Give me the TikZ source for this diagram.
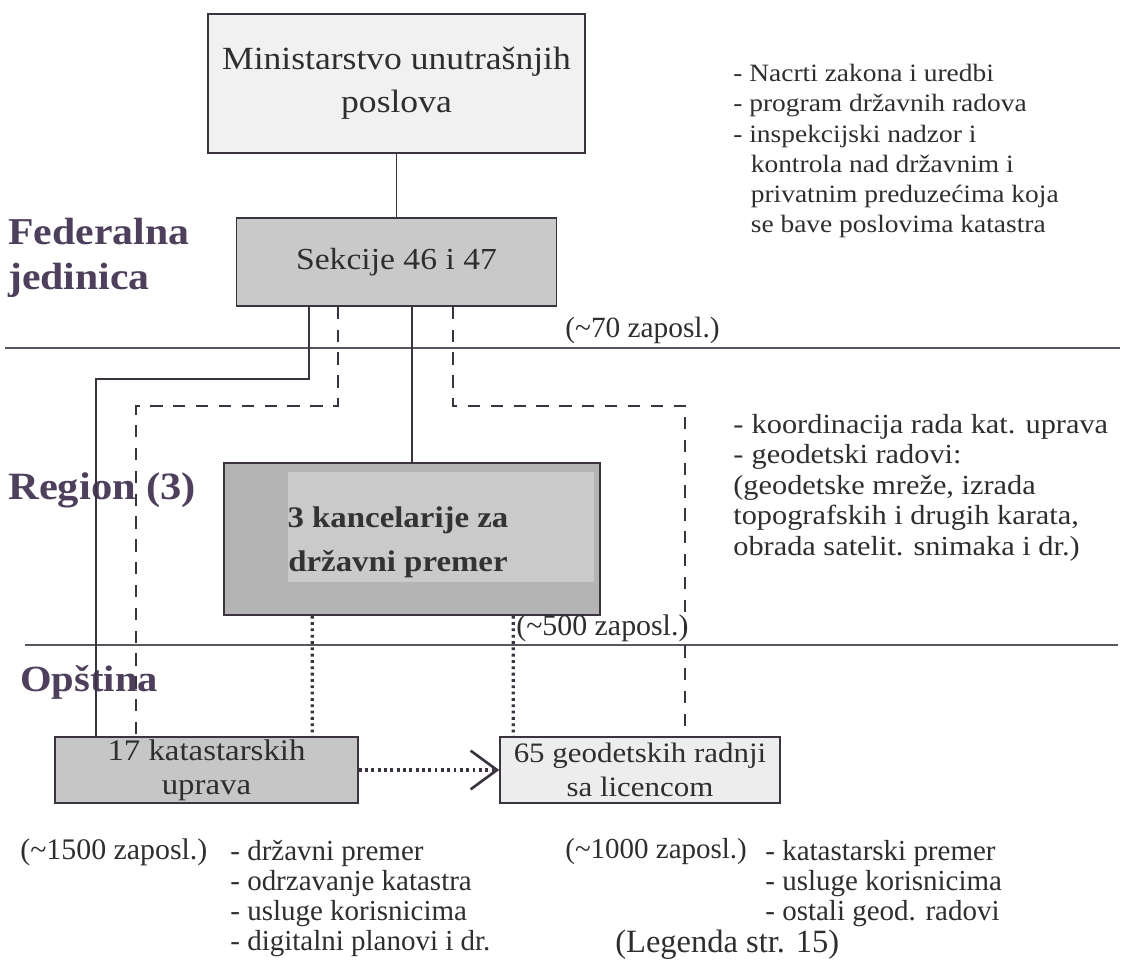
\documentclass[tikz,border=0pt]{standalone}
\usepackage{fontspec}
\setmainfont{Liberation Serif}[FakeStretch=1.1]
\newfontfamily\narrowfont{Liberation Serif}
\usetikzlibrary{calc,arrows.meta}

\definecolor{inkline}{HTML}{3B3340}
\definecolor{labelink}{HTML}{4E3F5C}
\definecolor{textink}{HTML}{2E2E2E}
\definecolor{rulegray}{HTML}{5A5560}
\definecolor{minfill}{HTML}{F1F1F1}
\definecolor{sekfill}{HTML}{C9C9C9}
\definecolor{kancfill}{HTML}{B4B4B4}
\definecolor{kancinner}{HTML}{CACACA}
\definecolor{katfill}{HTML}{C6C6C6}
\definecolor{geofill}{HTML}{EDEDED}

\tikzset{
	unitbox/.style={draw=inkline, line width=0.9pt, inner sep=0pt, align=center, text=textink},
	solidlink/.style={draw=inkline, line width=1.1pt},
	dashlink/.style={draw=inkline, line width=1.3pt, dash pattern=on 7pt off 6pt},
	dotlink/.style={draw=inkline, line width=1.8pt, dash pattern=on 1.6pt off 2pt},
	levelrule/.style={draw=rulegray, line width=1.6pt},
	levellabel/.style={anchor=west, align=left, inner sep=0pt, text=labelink},
	notetext/.style={anchor=north west, align=left, inner sep=0pt, text=textink}
}

\begin{document}
\begin{tikzpicture}[x=0.02cm, y=-0.02cm]
		%%%%% START %%%%%
		\useasboundingbox[fill=white] (0, 0) rectangle (1122, 972);
		
		% boxes
		\node[unitbox, fill=minfill, minimum width=7.54cm, minimum height=2.78cm,
			font=\fontsize{18.4}{24.5}\selectfont] (min) at (396.5, 83.5) {Ministarstvo unutrašnjih\\poslova};
		\node[unitbox, fill=sekfill, minimum width=6.4cm, minimum height=1.76cm,
			font=\fontsize{17.4}{21}\selectfont] (sek) at (396.5, 262) {Sekcije 46 i 47};
		\node[unitbox, fill=kancfill, minimum width=7.52cm, minimum height=3.04cm] (kanc) at (412, 539) {};
		\fill[kancinner] (288, 472) rectangle (594, 582);
		\node[inner sep=0pt, align=center, text=black!80, font=\bfseries\fontsize{17}{25}\selectfont]
			(kanctext) at (398, 542) {3 kancelarije za\\državni premer};
		\node[unitbox, fill=katfill, minimum width=6.06cm, minimum height=1.32cm,
			font=\fontsize{17}{19.5}\selectfont] (kat) at (206.5, 770) {17 katastarskih\\uprava};
		\node[unitbox, fill=geofill, minimum width=5.6cm, minimum height=1.32cm,
			font=\fontsize{16}{19.5}\selectfont] (geo) at (640, 770) {65 geodetskih radnji\\sa licencom};
		
		% levels
		\draw[levelrule] (5, 348) -- (1120, 348);
		\draw[levelrule] (25, 645) -- (1118, 645);
		\node[levellabel, font=\bfseries\fontsize{21.6}{25.5}\selectfont] (fed) at (8, 258) {Federalna\\jedinica};
		\node[levellabel, font=\bfseries\fontsize{22}{25.5}\selectfont] (reg) at (8, 490) {Region (3)};
		\node[levellabel, font=\bfseries\fontsize{21}{25.5}\selectfont] (ops) at (20, 682) {Opština};
		
		% connectors
		\draw[solidlink] (min.south) -- (sek.north);
		\draw[solidlink] ($(sek.south west)+(73,0)$) -- ++(0, 72) -| ($(kat.north west)+(42,0)$);
		\draw[dashlink] ($(sek.south west)+(102,0)$) -- ++(0, 99) -| ($(kat.north west)+(82,0)$);
		\draw[solidlink] (kanc.north |- sek.south) -- (kanc.north);
		\draw[dashlink] ($(sek.south west)+(217,0)$) -- ++(0, 99) -| ($(geo.north west)+(186,0)$);
		\draw[dotlink] ($(kanc.south west)+(89,0)$) -- ($(kat.north west)+(258,0)$);
		\draw[dotlink] ($(kanc.south west)+(290,0)$) -- ($(geo.north west)+(14,0)$);
		\draw[dotlink, -{Straight Barb[length=15pt, width=22pt, line width=1.5pt]}] (kat.east) -- (geo.west);
		
		% staff counts
		\node[inner sep=0pt, anchor=west, text=textink, font=\narrowfont\fontsize{16.7}{20}\selectfont]
			(zap70) at (565, 330) {(\textasciitilde70 zaposl.)};
		\node[inner sep=0pt, anchor=west, text=textink, font=\narrowfont\fontsize{17}{20}\selectfont]
			(zap500) at (516, 628) {(\textasciitilde500 zaposl.)};
		\node[inner sep=0pt, anchor=west, text=textink, font=\narrowfont\fontsize{17}{20}\selectfont]
			(zap1500) at (20, 852) {(\textasciitilde1500 zaposl.)};
		\node[inner sep=0pt, anchor=west, text=textink, font=\narrowfont\fontsize{16.5}{20}\selectfont]
			(zap1000) at (565, 852) {(\textasciitilde1000 zaposl.)};
		
		% tasks
		\node[notetext, font=\fontsize{14.2}{17.2}\selectfont] (taskfed) at (733, 64)
			{- Nacrti zakona i uredbi\\- program državnih radova\\- inspekcijski nadzor i\\
			\hspace*{0.7em}kontrola nad državnim i\\\hspace*{0.7em}privatnim preduzećima koja\\
			\hspace*{0.7em}se bave poslovima katastra};
		\node[notetext, font=\fontsize{15.7}{17.3}\selectfont] (taskreg) at (733, 414)
			{-\hspace*{0.3em}koordinacija rada kat. uprava\\-\hspace*{0.3em}geodetski radovi:\\
			(geodetske mreže, izrada\\topografskih i drugih karata,\\obrada satelit. snimaka i dr.)};
		\node[notetext, font=\narrowfont\fontsize{16.5}{17}\selectfont] (taskkat) at (230, 840)
			{- državni premer\\- odrzavanje katastra\\- usluge korisnicima\\- digitalni planovi i dr.};
		\node[notetext, font=\narrowfont\fontsize{16.5}{17}\selectfont] (taskgeo) at (765, 840)
			{- katastarski premer\\- usluge korisnicima\\- ostali geod. radovi};
		
		\node[inner sep=0pt, anchor=west, text=textink, font=\narrowfont\fontsize{18.5}{22}\selectfont]
			(legend) at (615, 945) {(Legenda str. 15)};
		%%%%% END %%%%%
\end{tikzpicture}
\end{document}
